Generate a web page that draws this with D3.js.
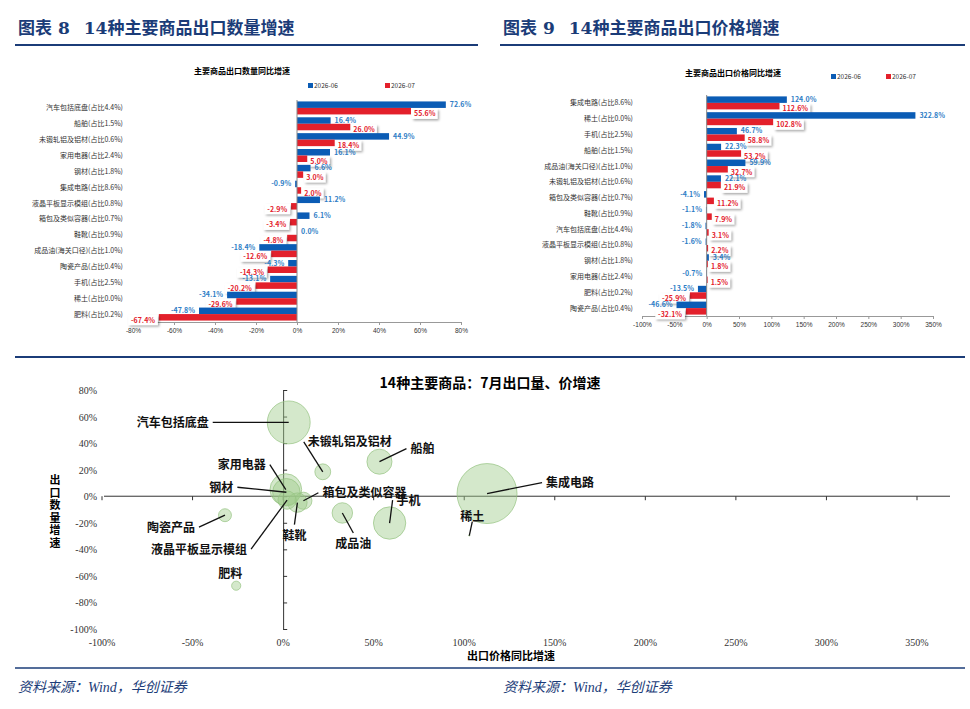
<!DOCTYPE html>
<html><head><meta charset="utf-8">
<script src="https://cdn.jsdelivr.net/npm/d3@7"></script>
<style>body{margin:0;background:#fff}svg{font-family:"Noto Sans CJK SC",sans-serif}</style>
</head><body><svg id="c" width="970" height="709"></svg>
<script>
// ---- data ----
const qtyCats = ["汽车包括底盘(占比4.4%)","船舶(占比1.5%)","未锻轧铝及铝材(占比0.6%)","家用电器(占比2.4%)","钢材(占比1.8%)","集成电路(占比8.6%)","液晶平板显示模组(占比0.8%)","箱包及类似容器(占比0.7%)","鞋靴(占比0.9%)","成品油(海关口径)(占比1.0%)","陶瓷产品(占比0.4%)","手机(占比2.5%)","稀土(占比0.0%)","肥料(占比0.2%)"];
const qtyJun = [72.6,16.4,44.9,16.1,6.6,-0.9,11.2,6.1,0.0,-18.4,-4.3,-13.1,-34.1,-47.8];
const qtyJul = [55.6,26.0,18.4,5.0,3.0,2.0,-2.9,-3.4,-4.8,-12.6,-14.3,-20.2,-29.6,-67.4];
const qtyTicks = [-80,-60,-40,-20,0,20,40,60,80];

const prcCats = ["集成电路(占比8.6%)","稀土(占比0.0%)","手机(占比2.5%)","船舶(占比1.5%)","成品油(海关口径)(占比1.0%)","未锻轧铝及铝材(占比0.6%)","箱包及类似容器(占比0.7%)","鞋靴(占比0.9%)","汽车包括底盘(占比4.4%)","液晶平板显示模组(占比0.8%)","钢材(占比1.8%)","家用电器(占比2.4%)","肥料(占比0.2%)","陶瓷产品(占比0.4%)"];
const prcJun = [124.0,322.8,46.7,22.3,59.9,22.1,-4.1,-1.1,-1.8,-1.6,3.4,-0.7,-13.5,-46.6];
const prcJul = [112.6,102.8,58.8,53.2,32.7,21.9,11.2,7.9,3.1,2.2,1.8,1.5,-25.9,-32.1];
const prcTicks = [-100,-50,0,50,100,150,200,250,300,350];

const goods = ["汽车包括底盘","集成电路","稀土","手机","船舶","未锻轧铝及铝材","成品油","家用电器","钢材","陶瓷产品","肥料","箱包及类似容器","鞋靴","液晶平板显示模组"];
const share = [4.4,8.6,0.0,2.5,1.5,0.6,1.0,2.4,1.8,0.4,0.2,0.7,0.9,0.8];
const julPrice = [3.1,112.6,102.8,58.8,53.2,21.9,32.7,1.5,1.8,-32.1,-25.9,11.2,7.9,2.2];
const julQty = [55.6,2.0,-29.6,-20.2,26.0,18.4,-12.6,5.0,3.0,-14.3,-67.4,-3.4,-4.8,-2.9];
const scX = [-100,-50,0,50,100,150,200,250,300,350];
const scY = [80,60,40,20,0,-20,-40,-60,-80,-100];
// label placement (offsets from bubble centre, px)
const labelPos = [[-80,0,"end"],[59,-11,"start"],[3,-19,"middle"],[7,-23,"start"],[31,-13,"start"],[-15,-30,"start"],[11,31,"middle"],[-20,-25,"end"],[-53,-5,"end"],[-30,12,"end"],[-6,-12,"middle"],[19,-8,"start"],[-3,33,"middle"],[-40,49,"end"]];

const BLUE="#0B5CB5", RED="#E3202B", NAVY="#1B3C78", LBLUE="#2E7DC6";
const svg=d3.select("#c");
const defs=svg.append("defs");
const f=defs.append("filter").attr("id","sh").attr("x","-20%").attr("y","-30%").attr("width","150%").attr("height","180%");
f.append("feDropShadow").attr("dx",1.5).attr("dy",1.5).attr("stdDeviation",1).attr("flood-color","#000").attr("flood-opacity",0.35);

// headings
[[18,478,"图表 8","14种主要商品出口数量增速"],[503,965,"图表 9","14种主要商品出口价格增速"]].forEach(([a,b,t1,t2])=>{
  const t=svg.append("text").attr("x",a).attr("y",34).attr("fill",NAVY).attr("font-size",17).attr("font-weight",700)
    .attr("font-family","'DejaVu Serif','Noto Sans CJK SC',serif");
  t.append("tspan").text(t1);
  t.append("tspan").attr("dx",14).text(t2);
  svg.append("line").attr("x1",a-3).attr("x2",b).attr("y1",45).attr("y2",45).attr("stroke",NAVY).attr("stroke-width",2);
});
svg.append("line").attr("x1",15).attr("x2",965).attr("y1",357).attr("y2",357).attr("stroke",NAVY).attr("stroke-width",2);
svg.append("line").attr("x1",15).attr("x2",965).attr("y1",668).attr("y2",668).attr("stroke",NAVY).attr("stroke-width",1.5);
[18,503].forEach(x=>svg.append("text").attr("x",x).attr("y",692).attr("fill",NAVY).attr("font-size",14)
  .attr("font-style","italic").attr("font-family","'Liberation Serif','Noto Sans CJK SC',serif").text("资料来源：Wind，华创证券"));

function barChart(cats,jun,jul,ticks,xr,yr,title,tx,ty,legX,legY,gap){
  const g=svg.append("g");
  const x=d3.scaleLinear().domain([ticks[0],ticks[ticks.length-1]]).range(xr);
  const y=d3.scaleBand().domain(cats).range(yr);
  const bh=6.5;
  g.append("text").attr("x",tx).attr("y",ty).attr("text-anchor","middle").attr("font-size",8).attr("font-weight",700).text(title);
  [[BLUE,"2026-06",legX[0]],[RED,"2026-07",legX[1]]].forEach(([c,t,lx])=>{
    g.append("rect").attr("x",lx).attr("y",legY-5).attr("width",5).attr("height",5).attr("fill",c);
    g.append("text").attr("x",lx+6).attr("y",legY).attr("font-size",6.5).attr("fill","#333").text(t);
  });
  const ax=g.append("g").attr("transform",`translate(0,${yr[1]})`).call(d3.axisBottom(x).tickValues(ticks).tickSize(3).tickFormat(d=>d+"%"));
  ax.selectAll("text").attr("font-size",6.5).attr("fill","#333");
  ax.selectAll("path,line").attr("stroke","#999");
  cats.forEach((c,i)=>{
    const yc=y(c)+y.bandwidth()/2;
    g.append("text").attr("x",x(ticks[0])-gap).attr("y",yc+2.5).attr("text-anchor","end").attr("font-size",7).attr("fill","#333").text(c);
    const vb=jun[i], vr=jul[i];
    g.append("rect").attr("x",x(Math.min(0,vb))).attr("y",yc-bh).attr("width",Math.abs(x(vb)-x(0))).attr("height",bh).attr("fill",BLUE);
    g.append("rect").attr("x",x(Math.min(0,vr))).attr("y",yc).attr("width",Math.abs(x(vr)-x(0))).attr("height",bh).attr("fill",RED);
    const bx=vb>=0?x(vb)+4:x(vb)-4;
    g.append("text").attr("x",bx).attr("y",yc-1).attr("text-anchor",vb>=0?"start":"end").attr("font-size",7).attr("font-weight",700).attr("fill",LBLUE).text(vb.toFixed(1)+"%");
    const t=vr.toFixed(1)+"%", w=t.length*4.1+5;
    const rx=vr>=0?x(vr)+1:x(vr)-w-1;
    g.append("rect").attr("x",rx).attr("y",yc+1).attr("width",w).attr("height",10).attr("fill","#fff").attr("filter","url(#sh)");
    g.append("text").attr("x",rx+w/2).attr("y",yc+8.5).attr("text-anchor","middle").attr("font-size",7).attr("font-weight",700).attr("fill",RED).text(t);
  });
  g.append("line").attr("x1",x(0)).attr("x2",x(0)).attr("y1",yr[0]).attr("y2",yr[1]).attr("stroke","#888");
}
barChart(qtyCats,qtyJun,qtyJul,qtyTicks,[133,461],[100,322],"主要商品出口数量同比增速",242,74,[308,385],88,10);
barChart(prcCats,prcJun,prcJul,prcTicks,[642,933],[95,316],"主要商品出口价格同比增速",733,76,[831,886],79,9);

// scatter
const sx=d3.scaleLinear().domain([-100,350]).range([102,917]);
const sy=d3.scaleLinear().domain([-100,80]).range([629,390]);
const sr=d3.scaleSqrt().domain([0,8.6]).range([0,30]);
const sg=svg.append("g");
sg.append("text").attr("x",490).attr("y",388).attr("text-anchor","middle").attr("font-size",14).attr("font-weight",700).text("14种主要商品：7月出口量、价增速");
const yAx=sg.append("g").attr("transform",`translate(${sx(0)},0)`).call(d3.axisLeft(sy).tickValues(scY).tickSize(-4).tickFormat(""));
yAx.selectAll("path,line").attr("stroke","#333");
scY.forEach(v=>sg.append("text").attr("x",97).attr("y",sy(v)+4).attr("text-anchor","end").attr("font-size",10).attr("fill","#333").attr("font-family","'Liberation Serif',serif").text(v+"%"));
sg.append("line").attr("x1",104).attr("x2",950).attr("y1",sy(0)).attr("y2",sy(0)).attr("stroke","#333");
scX.forEach(v=>{
  sg.append("line").attr("x1",sx(v)).attr("x2",sx(v)).attr("y1",sy(0)).attr("y2",sy(0)+4).attr("stroke","#333");
  sg.append("text").attr("x",sx(v)).attr("y",646).attr("text-anchor","middle").attr("font-size",10).attr("fill","#333").attr("font-family","'Liberation Serif',serif").text(v+"%");
});
sg.append("text").attr("x",511).attr("y",660).attr("text-anchor","middle").attr("font-size",11).attr("font-weight",700).text("出口价格同比增速");
["出","口","数","量","增","速"].forEach((ch,i)=>sg.append("text").attr("x",55).attr("y",484+i*12.5).attr("text-anchor","middle").attr("font-size",11).attr("font-weight",700).text(ch));
goods.forEach((gname,i)=>{
  const cx=sx(julPrice[i]), cy=sy(julQty[i]), r=Math.max(sr(share[i]),0.6);
  sg.append("circle").attr("cx",cx).attr("cy",cy).attr("r",r).attr("fill","rgba(160,205,140,0.45)").attr("stroke","rgba(150,195,130,0.7)");
});
goods.forEach((gname,i)=>{
  const cx=sx(julPrice[i]), cy=sy(julQty[i]);
  const [dx,dy,an]=labelPos[i];
  const lx=cx+dx, ly=cy+dy;
  let ex = an==="end"?lx+4: an==="start"?lx-4: lx;
  let ey = an==="middle"?(dy>0?ly-11:ly+5):ly;
  if(i!==10) sg.append("line").attr("x1",ex).attr("y1",ey).attr("x2",cx).attr("y2",cy).attr("stroke","#111").attr("stroke-width",1.3);
  sg.append("text").attr("x",lx).attr("y",ly+4.5).attr("text-anchor",an).attr("font-size",12).attr("font-weight",700).attr("fill","#111").text(gname);
});
</script></body></html>
